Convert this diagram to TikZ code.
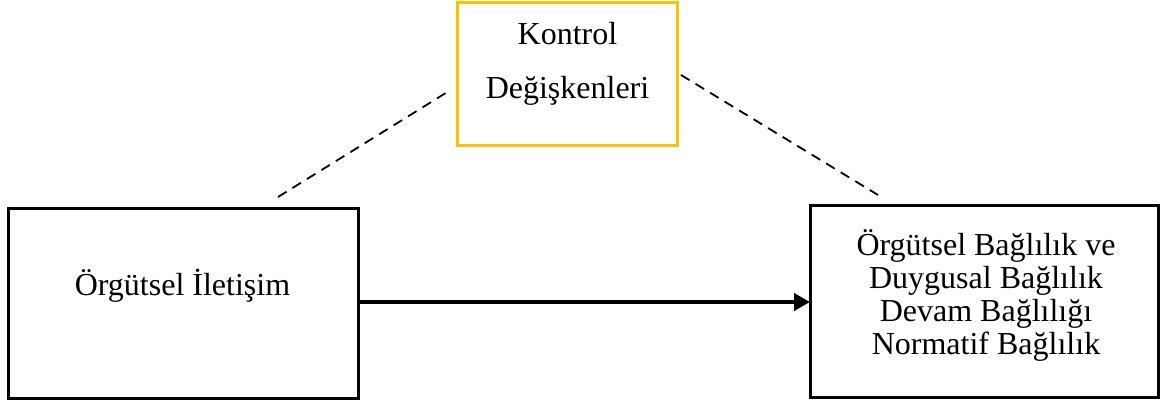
\documentclass[tikz,border=0pt]{standalone}
\usepackage{fontspec}
\setmainfont{Liberation Serif}
\usetikzlibrary{arrows.meta}
\definecolor{boxgold}{HTML}{FFC000}
\begin{document}
\begin{tikzpicture}[x=0.5pt,y=-0.5pt,
  box/.style={draw=black,line width=1.5pt,minimum width=#1,inner sep=0pt,outer sep=0pt},
  lbl/.style={align=center,inner sep=0pt,font=\fontsize{16}{16.5}\selectfont},
  link/.style={dashed,line width=0.9pt,dash pattern=on 5pt off 3.5pt},
  flow/.style={line width=2pt,-{Triangle[length=8pt,width=8.5pt]}}]
\useasboundingbox (0,0) rectangle (1171,401);
% boxes
\node[box=110pt,draw=boxgold,minimum height=71pt] (ctrl) at (567.5,74) {};
\node[box=175pt,minimum height=95pt] (comm) at (183,303) {};
\node[box=174pt,minimum height=96pt] (commit) at (984,301) {};
% texts
\node[lbl,anchor=base] (ctrlA) at (567.5,45) {Kontrol};
\node[lbl,anchor=base] (ctrlB) at (567.5,98) {Değişkenleri};
\node[lbl,anchor=base] (commT) at (182.5,295) {Örgütsel İletişim};
\node[lbl,anchor=base] (commitT) at (986,255) {Örgütsel Bağlılık ve};
\node[lbl,anchor=base] (commitT2) at (986,288) {Duygusal Bağlılık};
\node[lbl,anchor=base] (commitT3) at (986,321) {Devam Bağlılığı};
\node[lbl,anchor=base] (commitT4) at (986,354) {Normatif Bağlılık};
% dashed links
\coordinate (la) at (278,197);
\coordinate (lb) at (449,91);
\coordinate (ra) at (681,75);
\coordinate (rb) at (878,195);
\draw[link] (la) -- (lb);
\draw[link] (ra) -- (rb);
% main arrow
\coordinate (as) at (comm.east |- 0,302);
\draw[flow] (as) -- (as -| commit.west);
\end{tikzpicture}
\end{document}
